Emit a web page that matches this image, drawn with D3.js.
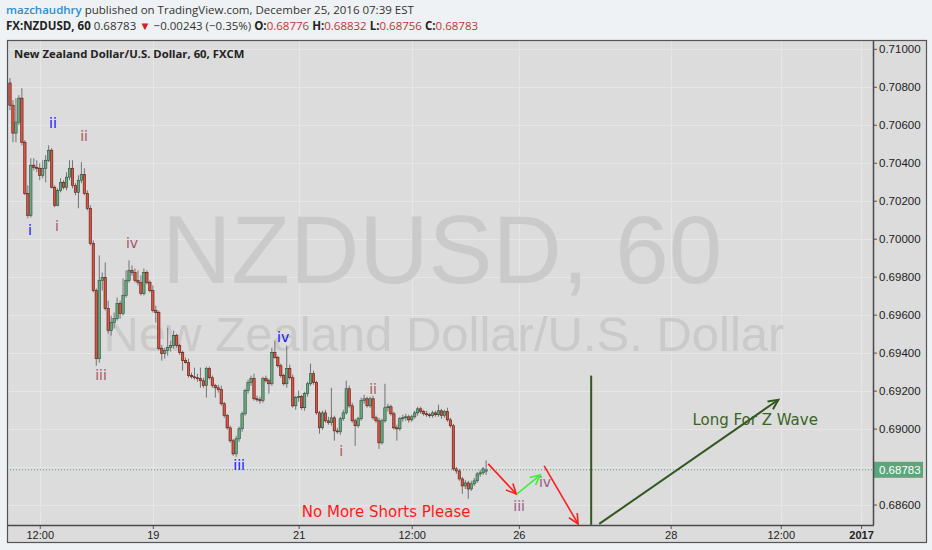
<!DOCTYPE html>
<html><head><meta charset="utf-8">
<script src="https://cdn.jsdelivr.net/npm/d3@7"></script>
<style>
html,body{margin:0;padding:0;background:#eff2f5;}
svg{display:block;}
</style></head><body>
<svg id="c" width="932" height="550"></svg>
<script>
// ---------- DATA ----------
// hourly candles [open, high, low, close]
const ohlc = [
[0.70820,0.70846,0.70677,0.70703],[0.70703,0.70730,0.70508,0.70556],[0.70556,0.70740,0.70508,0.70614],[0.70614,0.70756,0.70598,0.70740],
[0.70740,0.70793,0.70492,0.70508],[0.70508,0.70519,0.70229,0.70239],[0.70239,0.70281,0.70107,0.70123],[0.70123,0.70424,0.70112,0.70387],
[0.70387,0.70424,0.70360,0.70376],[0.70376,0.70413,0.70350,0.70371],[0.70371,0.70397,0.70308,0.70334],[0.70334,0.70413,0.70318,0.70371],
[0.70371,0.70440,0.70297,0.70413],[0.70413,0.70492,0.70403,0.70466],[0.70466,0.70477,0.70265,0.70271],[0.70271,0.70281,0.70165,0.70176],
[0.70176,0.70265,0.70170,0.70255],[0.70255,0.70318,0.70244,0.70297],[0.70297,0.70308,0.70260,0.70271],[0.70271,0.70350,0.70255,0.70324],
[0.70324,0.70413,0.70308,0.70371],[0.70371,0.70413,0.70265,0.70281],[0.70281,0.70292,0.70229,0.70244],[0.70244,0.70334,0.70160,0.70308],
[0.70308,0.70403,0.70292,0.70339],[0.70339,0.70371,0.70229,0.70239],[0.70239,0.70255,0.70149,0.70160],[0.70160,0.70176,0.69965,0.69975],
[0.69975,0.69991,0.69717,0.69727],[0.69727,0.69738,0.69331,0.69368],[0.69368,0.69912,0.69347,0.69780],[0.69780,0.69822,0.69727,0.69796],
[0.69796,0.69875,0.69622,0.69632],[0.69632,0.69674,0.69500,0.69516],[0.69516,0.69595,0.69490,0.69558],[0.69558,0.69611,0.69527,0.69579],
[0.69579,0.69690,0.69569,0.69659],[0.69659,0.69674,0.69579,0.69606],[0.69606,0.69791,0.69595,0.69701],[0.69701,0.69833,0.69690,0.69780],
[0.69780,0.69886,0.69769,0.69833],[0.69833,0.69859,0.69806,0.69822],[0.69822,0.69843,0.69769,0.69780],[0.69780,0.69833,0.69754,0.69769],
[0.69769,0.69806,0.69701,0.69711],[0.69711,0.69843,0.69701,0.69822],[0.69822,0.69833,0.69759,0.69769],[0.69769,0.69780,0.69717,0.69727],
[0.69727,0.69754,0.69611,0.69622],[0.69622,0.69648,0.69558,0.69611],[0.69611,0.69622,0.69411,0.69421],[0.69421,0.69437,0.69358,0.69395],
[0.69395,0.69426,0.69368,0.69411],[0.69411,0.69532,0.69384,0.69426],[0.69426,0.69463,0.69405,0.69437],[0.69437,0.69516,0.69421,0.69490],
[0.69490,0.69500,0.69426,0.69437],[0.69437,0.69447,0.69389,0.69400],[0.69400,0.69411,0.69305,0.69358],[0.69358,0.69374,0.69342,0.69347],
[0.69347,0.69368,0.69268,0.69279],[0.69279,0.69295,0.69263,0.69273],[0.69273,0.69321,0.69258,0.69268],[0.69268,0.69289,0.69247,0.69263],
[0.69263,0.69321,0.69215,0.69252],[0.69252,0.69268,0.69215,0.69226],[0.69226,0.69326,0.69163,0.69316],[0.69316,0.69326,0.69258,0.69268],
[0.69268,0.69279,0.69215,0.69226],[0.69226,0.69236,0.69163,0.69215],[0.69215,0.69231,0.69189,0.69205],[0.69205,0.69226,0.69120,0.69131],
[0.69131,0.69141,0.69057,0.69068],[0.69068,0.69078,0.68994,0.69004],[0.69004,0.69015,0.68925,0.68936],[0.68936,0.68946,0.68856,0.68867],
[0.68867,0.68962,0.68851,0.68946],[0.68946,0.69010,0.68930,0.68999],[0.68999,0.69089,0.68983,0.69078],[0.69078,0.69210,0.69068,0.69200],
[0.69200,0.69258,0.69184,0.69242],[0.69242,0.69279,0.69226,0.69263],[0.69263,0.69289,0.69147,0.69157],[0.69157,0.69173,0.69141,0.69152],
[0.69152,0.69168,0.69131,0.69147],[0.69147,0.69273,0.69136,0.69263],[0.69263,0.69279,0.69242,0.69252],[0.69252,0.69263,0.69184,0.69236],
[0.69236,0.69426,0.69226,0.69400],[0.69400,0.69463,0.69368,0.69374],[0.69374,0.69384,0.69321,0.69331],[0.69331,0.69342,0.69268,0.69279],
[0.69279,0.69289,0.69226,0.69236],[0.69236,0.69437,0.69215,0.69316],[0.69316,0.69337,0.69258,0.69268],[0.69268,0.69284,0.69110,0.69120],
[0.69120,0.69173,0.69099,0.69163],[0.69163,0.69200,0.69141,0.69168],[0.69168,0.69178,0.69099,0.69110],[0.69110,0.69194,0.69094,0.69184],
[0.69184,0.69247,0.69168,0.69236],[0.69236,0.69342,0.69226,0.69289],[0.69289,0.69305,0.69231,0.69242],[0.69242,0.69252,0.69073,0.69083],
[0.69083,0.69094,0.68973,0.69004],[0.69004,0.69094,0.68994,0.69083],[0.69083,0.69099,0.69031,0.69041],[0.69041,0.69062,0.69020,0.69031],
[0.69031,0.69215,0.69015,0.69057],[0.69057,0.69068,0.68936,0.68988],[0.68988,0.69004,0.68973,0.68983],[0.68983,0.69062,0.68967,0.69052],
[0.69052,0.69099,0.69041,0.69083],[0.69083,0.69252,0.69073,0.69210],[0.69210,0.69226,0.69110,0.69120],[0.69120,0.69136,0.69031,0.69041],
[0.69041,0.69052,0.68909,0.69015],[0.69015,0.69062,0.69004,0.69052],[0.69052,0.69163,0.69041,0.69147],[0.69147,0.69178,0.69131,0.69157],
[0.69157,0.69168,0.69110,0.69120],[0.69120,0.69168,0.69110,0.69157],[0.69157,0.69173,0.69046,0.69057],[0.69057,0.69068,0.69031,0.69041],
[0.69041,0.69057,0.68893,0.68925],[0.68925,0.69052,0.68915,0.69041],[0.69041,0.69236,0.69031,0.69110],[0.69110,0.69131,0.69089,0.69115],
[0.69115,0.69126,0.69068,0.69078],[0.69078,0.69089,0.68994,0.69004],[0.69004,0.69020,0.68936,0.68999],[0.68999,0.69062,0.68988,0.69052],
[0.69052,0.69073,0.69036,0.69057],[0.69057,0.69078,0.69041,0.69062],[0.69062,0.69073,0.69031,0.69046],[0.69046,0.69073,0.69036,0.69062],
[0.69062,0.69094,0.69052,0.69083],[0.69083,0.69115,0.69068,0.69104],[0.69104,0.69115,0.69078,0.69089],[0.69089,0.69099,0.69068,0.69078],
[0.69078,0.69094,0.69062,0.69073],[0.69073,0.69083,0.69057,0.69068],[0.69068,0.69094,0.69057,0.69083],[0.69083,0.69094,0.69062,0.69073],
[0.69073,0.69126,0.69062,0.69094],[0.69094,0.69104,0.69052,0.69068],[0.69068,0.69099,0.69057,0.69089],[0.69089,0.69110,0.69036,0.69046],
[0.69046,0.69057,0.69004,0.69015],[0.69015,0.69025,0.68778,0.68788],[0.68788,0.68798,0.68762,0.68777],[0.68777,0.68788,0.68725,0.68735],
[0.68735,0.68746,0.68656,0.68698],[0.68698,0.68730,0.68682,0.68714],[0.68714,0.68725,0.68630,0.68682],[0.68682,0.68725,0.68672,0.68709],
[0.68709,0.68740,0.68698,0.68725],[0.68725,0.68772,0.68714,0.68761],[0.68761,0.68783,0.68746,0.68767],[0.68767,0.68798,0.68756,0.68788],
[0.68776,0.68832,0.68756,0.68783]
];
const xTickBars   = [10, 48, 97, 135, 171, 222, 259, 286];
const xTickLabels = ["12:00","19","21","12:00","26","28","12:00","2017"];
const yTicks = [0.686,0.688,0.690,0.692,0.694,0.696,0.698,0.700,0.702,0.704,0.706,0.708,0.710];
const lastPrice = 0.68783;
// wave labels: text, bar index, price, colour group
const waveLabels = [
  ["i",   6.7, 0.70044, "blue"], ["ii", 14.45, 0.70608, "blue"],
  ["ii", 24.9, 0.70540, "rose"], ["i",  15.8, 0.70065, "rose"],
  ["iv", 41.0, 0.69975, "rose"], ["iii",30.6, 0.69284, "rose"],
  ["iv", 91.8, 0.69484, "blue"], ["iii",77.0, 0.68809, "blue"],
  ["i", 111.3, 0.68883, "rose"], ["ii",122.0, 0.69210, "rose"],
  ["iii",171.1,0.68593, "plum"], ["iv",179.8, 0.68719, "plum"]
];
// arrows: [from bar, from price, to bar, to price, colour group]
const arrows = [
  [160.7, 0.68814, 170.1, 0.68656, "red"],
  [170.4, 0.68656, 178.2, 0.68756, "lime"],
  [179.5, 0.68804, 190.9, 0.68498, "red"],
  [198.0, 0.68498, 258.2, 0.69152, "olive"]
];
const vLines = [[195.3, 0.69279, 0.68493, "olive"]];
const notes = [
  ["No More Shorts Please", 126.4, 0.68561, "red"],
  ["Long For Z Wave", 250.4, 0.69046, "olive"]
];
const header1 = [["mazchaudhry","user"],[" published on TradingView.com, December 25, 2016 07:39 EST","plain"]];
const header2 = [["FX:NZDUSD, 60","bold"],[" 0.68783 ","plain"],["▼","down"],[" −0.00243 (−0.35%) ","plain"],
  ["O:","bold"],["0.68776","val"],[" H:","bold"],["0.68832","val"],[" L:","bold"],["0.68756","val"],[" C:","bold"],["0.68783","val"]];
const title = "New Zealand Dollar/U.S. Dollar, 60, FXCM";
const watermark = ["NZDUSD, 60", "New Zealand Dollar/U.S. Dollar"];

// ---------- LAYOUT / STYLE ----------
const P = {l:7, r:873, t:40, b:525};
const frame = {l:7, r:927, t:40, b:543};
const colors = {blue:"#1414ff", rose:"#a95562", plum:"#9a5a86", red:"#ff1e1e", lime:"#3cf03c", olive:"#33581f"};
const upFill="#6ba583", upBorder="#225437", dnFill="#d75442", dnBorder="#5b1a13", wick="#737375";

const svg = d3.select("#c");
const x = d3.scaleLinear().domain([-1, 290]).range([P.l, P.r]);
const y = d3.scaleLinear().domain([0.684923, 0.710464]).range([P.b, P.t]);

// frame background
svg.append("rect").attr("x",frame.l).attr("y",frame.t).attr("width",frame.r-frame.l).attr("height",frame.b-frame.t).attr("fill","#dcdcdc");

// clip
svg.append("defs").append("clipPath").attr("id","pc").append("rect")
  .attr("x",P.l).attr("y",P.t).attr("width",P.r-P.l).attr("height",P.b-P.t);
const plot = svg.append("g").attr("clip-path","url(#pc)");

// grid
plot.append("g").selectAll("line").data(yTicks).join("line")
  .attr("x1",P.l).attr("x2",P.r).attr("y1",d=>Math.round(y(d))+0.5).attr("y2",d=>Math.round(y(d))+0.5)
  .attr("stroke","#e6e6e6").attr("stroke-width",1);
plot.append("g").selectAll("line").data(xTickBars).join("line")
  .attr("y1",P.t).attr("y2",P.b).attr("x1",d=>Math.round(x(d))+0.5).attr("x2",d=>Math.round(x(d))+0.5)
  .attr("stroke","#e6e6e6").attr("stroke-width",1);

// watermark
plot.append("text").attr("x",(P.l+P.r)/2+2).attr("y",283).attr("text-anchor","middle")
  .attr("font-family","Liberation Sans, Arial, sans-serif").attr("font-size",96).attr("fill","#cacaca").text(watermark[0]);
plot.append("text").attr("x",(P.l+P.r)/2+4).attr("y",351).attr("text-anchor","middle")
  .attr("font-family","Liberation Sans, Arial, sans-serif").attr("font-size",49).attr("fill","#cacaca").text(watermark[1]);

// title
svg.append("text").attr("x",14).attr("y",58).attr("font-family","Open Sans, sans-serif").attr("font-weight",700)
  .attr("font-size",11.3).attr("fill","#222").text(title);

// candles
const cg = plot.append("g");
ohlc.forEach((d,i)=>{
  const [o,h,l,c] = d, up = c>=o, cx = x(i);
  cg.append("line").attr("x1",cx).attr("x2",cx).attr("y1",y(h)).attr("y2",y(l)).attr("stroke",wick).attr("stroke-width",1);
  const top=y(Math.max(o,c)), bot=y(Math.min(o,c));
  cg.append("rect").attr("x",cx-1.2).attr("width",2.4).attr("y",top).attr("height",Math.max(1,bot-top))
    .attr("fill",up?upFill:dnFill).attr("stroke",up?upBorder:dnBorder).attr("stroke-width",0.6);
});

// last price dotted line
plot.append("line").attr("x1",P.l).attr("x2",P.r).attr("y1",y(lastPrice)).attr("y2",y(lastPrice))
  .attr("stroke","#5d9c78").attr("stroke-width",1).attr("stroke-dasharray","1,2");

// wave labels
plot.append("g").selectAll("text").data(waveLabels).join("text")
  .attr("x",d=>x(d[1])).attr("y",d=>y(d[2])).attr("text-anchor","middle").attr("dominant-baseline","central")
  .attr("font-family","DejaVu Sans, Verdana, sans-serif").attr("font-size",14).attr("fill",d=>colors[d[3]]).text(d=>d[0]);

// vertical line
vLines.forEach(v=>{
  plot.append("line").attr("x1",x(v[0])).attr("x2",x(v[0])).attr("y1",y(v[1])).attr("y2",y(v[2]))
    .attr("stroke",colors[v[3]]).attr("stroke-width",2);
});

// arrows
arrows.forEach(a=>{
  const x1=x(a[0]), y1=y(a[1]), x2=x(a[2]), y2=y(a[3]), col=colors[a[4]];
  const w = a[4]==="olive"?2:1.6;
  plot.append("line").attr("x1",x1).attr("y1",y1).attr("x2",x2).attr("y2",y2).attr("stroke",col).attr("stroke-width",w);
  const ang=Math.atan2(y2-y1,x2-x1), L=11, s=0.45;
  const p1=[x2-L*Math.cos(ang-s), y2-L*Math.sin(ang-s)], p2=[x2-L*Math.cos(ang+s), y2-L*Math.sin(ang+s)];
  plot.append("path").attr("d",`M${p1[0]},${p1[1]}L${x2},${y2}L${p2[0]},${p2[1]}`).attr("fill","none")
    .attr("stroke",col).attr("stroke-width",w);
});

// notes
plot.append("g").selectAll("text").data(notes).join("text")
  .attr("x",d=>x(d[1])).attr("y",d=>y(d[2])).attr("text-anchor","middle").attr("dominant-baseline","central")
  .attr("font-family","DejaVu Sans, Verdana, sans-serif").attr("font-size",15).attr("fill",d=>d[3]==="red"?"#ff1a1a":"#3b6328").text(d=>d[0]);

// axes (the label at the last price is covered by the price tag, as in TradingView)
const ya = svg.append("g").attr("transform",`translate(${P.r},0)`)
  .call(d3.axisRight(y).tickValues(yTicks).tickFormat(d3.format(".5f")).tickSize(4).tickPadding(2));
ya.select(".domain").remove();
ya.selectAll(".tick").filter(d=>Math.abs(y(d)-y(lastPrice))<12).select("text").remove();
ya.selectAll("text").attr("font-family","Liberation Sans, Arial, sans-serif").attr("font-size",11.5).attr("fill","#222");
ya.selectAll("line").attr("stroke","#555");

const xa = svg.append("g").attr("transform",`translate(0,${P.b})`)
  .call(d3.axisBottom(x).tickValues(xTickBars).tickFormat((d,i)=>xTickLabels[i]).tickSize(4).tickPadding(2));
xa.select(".domain").remove();
xa.selectAll("text").attr("font-family","Liberation Sans, Arial, sans-serif").attr("font-size",11).attr("fill","#222")
  .attr("font-weight",(d,i)=>xTickLabels[i]==="2017"?"bold":"normal");
xa.selectAll("line").attr("stroke","#555");

// price label
const ly = y(lastPrice);
svg.append("rect").attr("x",P.r+1).attr("y",ly-8).attr("width",49).attr("height",16).attr("fill","#5fa57c");
svg.append("text").attr("x",P.r+6).attr("y",ly).attr("dominant-baseline","central")
  .attr("font-family","Liberation Sans, Arial, sans-serif").attr("font-size",11.5).attr("fill","#fff").text(lastPrice.toFixed(5));

// borders
svg.append("line").attr("x1",P.r+0.5).attr("x2",P.r+0.5).attr("y1",frame.t).attr("y2",P.b).attr("stroke","#4a4a4a").attr("stroke-width",1.5);
svg.append("line").attr("x1",P.l).attr("x2",P.r+1).attr("y1",P.b+0.5).attr("y2",P.b+0.5).attr("stroke","#4a4a4a").attr("stroke-width",1.5);
svg.append("rect").attr("x",frame.l+0.5).attr("y",frame.t+0.5).attr("width",frame.r-frame.l-1).attr("height",frame.b-frame.t-1)
  .attr("fill","none").attr("stroke","#555").attr("stroke-width",1.2);

// header
const hstyle = {user:["#2b8fcf",600],plain:["#333",400],bold:["#222",700],down:["#d0232b",400],val:["#c8302f",400]};
function header(parts, yy){
  const t = svg.append("text").attr("x",6).attr("y",yy).attr("font-family","Open Sans, sans-serif").attr("font-size",11.5);
  parts.forEach(p=>{ t.append("tspan").attr("fill",hstyle[p[1]][0]).attr("font-weight",hstyle[p[1]][1]).text(p[0]); });
}
header(header1, 14);
header(header2, 30);
</script>
</body></html>
